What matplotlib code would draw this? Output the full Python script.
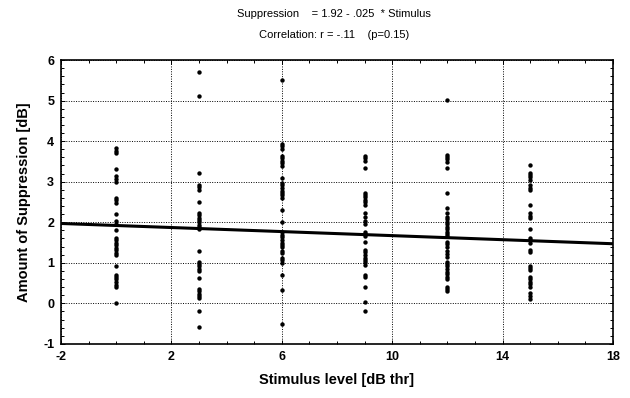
import numpy as np
import matplotlib
matplotlib.use('Agg')
import matplotlib.pyplot as plt
from matplotlib.ticker import MultipleLocator

plt.rcParams['font.family'] = ['Liberation Sans', 'DejaVu Sans']
plt.rcParams['axes.unicode_minus'] = False

# suppression amounts per stimulus level
LEVELS = [0, 3, 6, 9, 12, 15]
SUPP_0 = [3.83, 3.77, 3.72, 3.32, 3.13, 3.06, 3.0, 2.6, 2.54, 2.47, 2.2, 2.02, 1.96,
          1.8, 1.61, 1.55, 1.49, 1.43, 1.37, 1.31, 1.24, 1.2, 0.91, 0.71, 0.65, 0.59,
          0.52, 0.46, 0.4, 0.01]
SUPP_3 = [5.71, 5.12, 3.21, 2.91, 2.86, 2.8, 2.5, 2.23, 2.17, 2.1, 2.06, 2.0, 1.94,
          1.88, 1.83, 1.3, 1.02, 0.97, 0.91, 0.85, 0.79, 0.62, 0.36, 0.3, 0.24, 0.18,
          0.12, -0.19, -0.58]
SUPP_6 = [5.52, 3.93, 3.87, 3.8, 3.64, 3.58, 3.52, 3.46, 3.39, 3.1, 2.96, 2.91, 2.84,
          2.78, 2.72, 2.66, 2.6, 2.31, 2.0, 1.75, 1.69, 1.63, 1.57, 1.5, 1.45, 1.39,
          1.3, 1.24, 1.12, 1.06, 1.0, 0.71, 0.32, -0.5]
SUPP_9 = [3.63, 3.58, 3.52, 3.33, 2.73, 2.67, 2.62, 2.55, 2.49, 2.43, 2.22, 2.12,
          2.02, 1.96, 1.77, 1.71, 1.65, 1.52, 1.32, 1.26, 1.19, 1.13, 1.07, 1.01,
          0.95, 0.7, 0.64, 0.41, 0.04, -0.18]
SUPP_12 = [5.01, 3.66, 3.6, 3.55, 3.49, 3.33, 2.71, 2.34, 2.22, 2.14, 2.07, 2.01,
           1.96, 1.89, 1.83, 1.77, 1.71, 1.65, 1.52, 1.46, 1.4, 1.28, 1.22, 1.15,
           1.03, 0.97, 0.91, 0.85, 0.78, 0.72, 0.66, 0.59, 0.41, 0.36, 0.31]
SUPP_15 = [3.41, 3.22, 3.17, 3.11, 3.04, 2.92, 2.85, 2.8, 2.43, 2.22, 2.16, 2.1,
           1.83, 1.61, 1.55, 1.48, 1.32, 1.26, 0.93, 0.87, 0.81, 0.66, 0.59, 0.53,
           0.47, 0.41, 0.25, 0.18, 0.11]

# fitted line as printed above the chart
INTERCEPT = 1.92
SLOPE = -0.025
FIT_X = [-2, 18]

X_TICKS = [-2, 2, 6, 10, 14, 18]
Y_TICKS = [-1, 0, 1, 2, 3, 4, 5, 6]

TITLE_1 = "Suppression    = 1.92 - .025  * Stimulus"
TITLE_2 = "Correlation: r = -.11    (p=0.15)"

fig = plt.figure(figsize=(6.3, 3.98), dpi=100)
ax = fig.add_axes([0.097, 0.136, 0.876, 0.713])

groups = [SUPP_0, SUPP_3, SUPP_6, SUPP_9, SUPP_12, SUPP_15]
for lvl, vals in zip(LEVELS, groups):
    ax.scatter([lvl] * len(vals), vals, s=10, color='black', zorder=3, linewidths=0)

fx = np.array(FIT_X, dtype=float)
ax.plot(fx, INTERCEPT + SLOPE * fx, color='black', linewidth=2.2, zorder=4)

ax.set_xlim(-2, 18)
ax.set_ylim(-1, 6)
ax.set_xticks(X_TICKS)
ax.set_yticks(Y_TICKS)
ax.xaxis.set_minor_locator(MultipleLocator(1))
ax.yaxis.set_minor_locator(MultipleLocator(0.2))
ax.grid(True, which='major', color='black', linestyle=(0, (1, 1.5)), linewidth=0.7)
ax.tick_params(which='both', direction='in', top=True, right=True, width=0.7)
ax.tick_params(which='major', length=3, labelsize=9, pad=5)
ax.tick_params(which='minor', length=2)
for lab in ax.get_xticklabels() + ax.get_yticklabels():
    lab.set_fontweight('bold')
for sp in ax.spines.values():
    sp.set_linewidth(1.2)

ax.set_xlabel("Stimulus level [dB thr]", fontsize=10.5, fontweight='bold', labelpad=7)
ax.set_ylabel("Amount of Suppression [dB]", fontsize=10.5, fontweight='bold', labelpad=9)

fig.text(0.53, 0.965, TITLE_1, ha='center', va='center', fontsize=8)
fig.text(0.53, 0.912, TITLE_2, ha='center', va='center', fontsize=8)

fig.savefig("out.png", dpi=100)
